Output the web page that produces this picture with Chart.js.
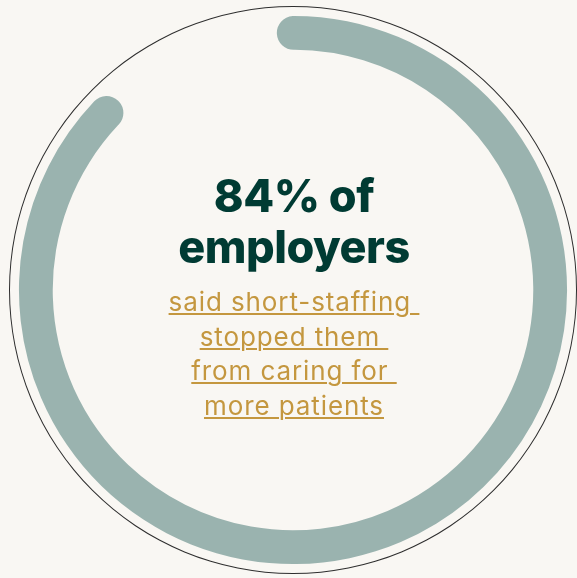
<!DOCTYPE html>
<html>
<head>
<meta charset="utf-8">
<script src="https://cdn.jsdelivr.net/npm/chart.js@4.4.1/dist/chart.umd.min.js"></script>
<style>
  html, body { margin: 0; padding: 0; background: #f9f7f3; }
  #wrap { position: relative; width: 577px; height: 578px; overflow: hidden; }
  #chart { position: absolute; left: 0; top: 0; }
  .center { position: absolute; left: 0; width: 588px; text-align: center; }
  #headline { top: 170px; font-family: Inter, sans-serif; font-weight: 800; font-size: 45px; line-height: 51px; color: #003b33; letter-spacing: -0.5px; }
  #sub { top: 285px; font-family: Inter, sans-serif; font-weight: 400; font-size: 26px; line-height: 34.7px; color: #c4973f; letter-spacing: 0.9px; }
  #sub span { text-decoration: underline; text-decoration-thickness: 1.6px; text-underline-offset: 2px; }
</style>
</head>
<body>
<div id="wrap">
  <canvas id="chart" width="577" height="578"></canvas>
  <div id="headline" class="center">84% of<br>employers</div>
  <div id="sub" class="center">
    <span>said short-staffing&nbsp;</span><br>
    <span>stopped them&nbsp;</span><br>
    <span>from caring for&nbsp;</span><br>
    <span>more patients</span>
  </div>
</div>
<script>
// share of employers reporting the issue
const labels = ["Said yes", "Rest"];
const values = [84, 16];
const ringColor = "#9ab3af";

const ctx = document.getElementById("chart").getContext("2d");
new Chart(ctx, {
    type: "doughnut",
    data: {
        labels: labels,
        datasets: [
            // thin outline ring
            { data: [1], backgroundColor: ["#2e2e2e"], borderWidth: 0, weight: 1 },
            // gap between outline and progress ring
            { data: [1], backgroundColor: ["rgba(0,0,0,0)"], borderWidth: 0, weight: 9 },
            // progress ring with round ends
            {
                data: values,
                backgroundColor: [ringColor, "rgba(0,0,0,0)"],
                borderWidth: 0,
                borderRadius: 17,
                rotation: -3.6,
                circumference: 382,
                weight: 34
            }
        ]
    },
    options: {
        responsive: false,
        animation: false,
        cutout: "84.6%",
        layout: { padding: { left: 9, right: 0, top: 6, bottom: 4 } },
        plugins: {
            legend: { display: false },
            tooltip: { enabled: false }
        }
    }
});
</script>
</body>
</html>
